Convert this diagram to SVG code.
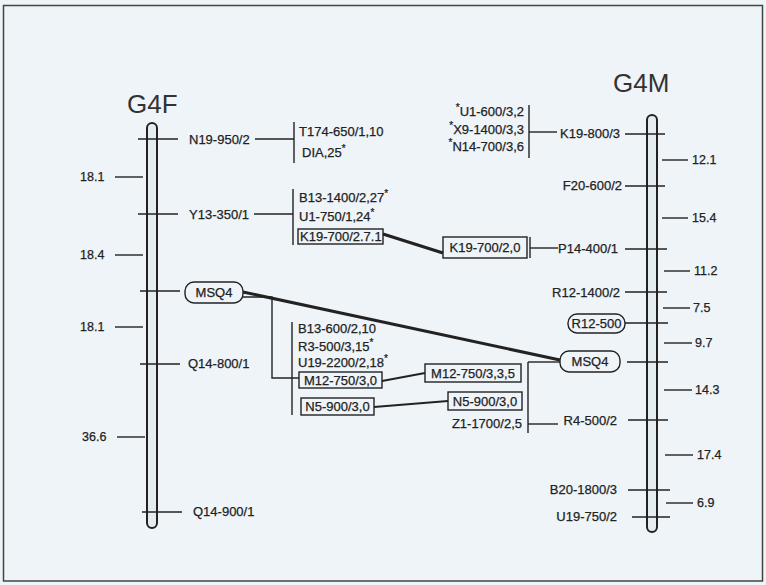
<svg xmlns="http://www.w3.org/2000/svg" width="766" height="585" viewBox="0 0 766 585">
<style>
text{font-family:"Liberation Sans",Arial,sans-serif;font-size:13px;fill:#222;stroke:#222;stroke-width:0.25}
.t{font-size:26px;fill:#333;stroke:none}
.n{font-size:12.5px}
.e{text-anchor:end}
.m{text-anchor:middle}
.s{font-size:10px}
line,path,polyline{stroke:#222;fill:none;stroke-width:1.4}
.rod{fill:#e6edf1;stroke:#222;stroke-width:2}
.box{fill:none;stroke:#222;stroke-width:1.4}
.thick{stroke-width:3}
.med{stroke-width:2}
</style>
<rect x="0" y="0" width="766" height="585" fill="#eef4f8"/>
<rect x="3.5" y="5.5" width="759" height="575.5" fill="none" stroke="#444" stroke-width="1.5"/>

<g id="G4F">
  <text class="t" x="127" y="113">G4F</text>
  <rect class="rod" x="147" y="123" width="10" height="405" rx="5"/>
  <line x1="138" y1="139" x2="178" y2="139"/>
  <line x1="115" y1="177" x2="143" y2="177"/>
  <line x1="138" y1="214" x2="178" y2="214"/>
  <line x1="115" y1="255" x2="143" y2="255"/>
  <line x1="140" y1="291" x2="180" y2="291"/>
  <line x1="115" y1="327" x2="143" y2="327"/>
  <line x1="140" y1="364" x2="180" y2="364"/>
  <line x1="117" y1="437" x2="145" y2="437"/>
  <line x1="142" y1="512" x2="182" y2="512"/>
  <text class="n" x="80" y="181">18.1</text>
  <text class="n" x="80" y="259">18.4</text>
  <text class="n" x="80" y="331">18.1</text>
  <text class="n" x="82" y="441">36.6</text>
  <text x="189" y="144">N19-950/2</text>
  <text x="189" y="219">Y13-350/1</text>
  <text x="188" y="368">Q14-800/1</text>
  <text x="193" y="516">Q14-900/1</text>
</g>
<g id="MSQ4-F">
  <rect class="box" x="185" y="282" width="58" height="21" rx="9"/>
  <text class="m" x="214" y="297">MSQ4</text>
</g>

<g id="G4M">
  <text class="t" x="613" y="92">G4M</text>
  <rect class="rod" x="647" y="115" width="10" height="417" rx="5"/>
  <line x1="625" y1="134" x2="665" y2="134"/>
  <line x1="662" y1="160" x2="688" y2="160"/>
  <line x1="625" y1="186" x2="665" y2="186"/>
  <line x1="662" y1="218" x2="688" y2="218"/>
  <line x1="625" y1="249" x2="667" y2="249"/>
  <line x1="664" y1="271" x2="690" y2="271"/>
  <line x1="625" y1="292" x2="667" y2="292"/>
  <line x1="663" y1="308" x2="690" y2="308"/>
  <line x1="625" y1="323" x2="668" y2="323"/>
  <line x1="664" y1="343" x2="692" y2="343"/>
  <line x1="627" y1="362" x2="668" y2="362"/>
  <line x1="664" y1="390" x2="692" y2="390"/>
  <line x1="628" y1="420" x2="668" y2="420"/>
  <line x1="665" y1="455" x2="693" y2="455"/>
  <line x1="628" y1="490" x2="670" y2="490"/>
  <line x1="666" y1="503" x2="693" y2="503"/>
  <line x1="632" y1="517" x2="670" y2="517"/>
  <text class="n" x="692" y="164">12.1</text>
  <text class="n" x="692" y="222">15.4</text>
  <text class="n" x="694" y="275">11.2</text>
  <text class="n" x="693" y="312">7.5</text>
  <text class="n" x="695" y="347">9.7</text>
  <text class="n" x="695" y="394">14.3</text>
  <text class="n" x="697" y="459">17.4</text>
  <text class="n" x="697" y="507">6.9</text>
  <text class="e" x="620" y="138">K19-800/3</text>
  <text class="e" x="622" y="190">F20-600/2</text>
  <text class="e" x="618" y="253">P14-400/1</text>
  <text class="e" x="620" y="297">R12-1400/2</text>
  <text class="e" x="617" y="425">R4-500/2</text>
  <text class="e" x="617" y="494">B20-1800/3</text>
  <text class="e" x="617" y="521">U19-750/2</text>
</g>
<g id="R12-500">
  <rect class="box" x="568" y="314" width="57" height="19" rx="9"/>
  <text class="m" x="596.5" y="328">R12-500</text>
</g>
<g id="MSQ4-M">
  <rect class="box" x="560" y="351" width="60" height="21" rx="9"/>
  <text class="m" x="590" y="366">MSQ4</text>
</g>

<g id="group-N19">
  <text x="299" y="136">T174-650/1,10</text>
  <text x="302" y="157">DIA,25<tspan class="s" dy="-5">*</tspan></text>
</g>
<g id="group-Y13">
  <text x="299" y="202">B13-1400/2,27<tspan class="s" dy="-5">*</tspan></text>
  <text x="299" y="221">U1-750/1,24<tspan class="s" dy="-5">*</tspan></text>
</g>
<g id="K19-left">
  <rect class="box" x="298" y="229" width="85" height="15"/>
  <text x="300" y="241">K19-700/2.7.1</text>
</g>
<g id="K19-right">
  <rect class="box" x="443" y="237" width="84" height="21"/>
  <text class="m" x="485" y="252">K19-700/2,0</text>
</g>
<g id="group-K19-800">
  <text class="e" x="524" y="116"><tspan class="s" dy="-5">*</tspan><tspan dy="5">U1-600/3,2</tspan></text>
  <text class="e" x="524" y="134"><tspan class="s" dy="-5">*</tspan><tspan dy="5">X9-1400/3,3</tspan></text>
  <text class="e" x="524" y="151"><tspan class="s" dy="-5">*</tspan><tspan dy="5">N14-700/3,6</tspan></text>
</g>
<g id="group-MSQ4">
  <text x="298" y="333">B13-600/2,10</text>
  <text x="298" y="351">R3-500/3,15<tspan class="s" dy="-5">*</tspan></text>
  <text x="298" y="367">U19-2200/2,18<tspan class="s" dy="-5">*</tspan></text>
</g>
<g id="M12-left">
  <rect class="box" x="299" y="372" width="83" height="16"/>
  <text class="m" x="340.5" y="385">M12-750/3,0</text>
</g>
<g id="N5-left">
  <rect class="box" x="301" y="398" width="73" height="17"/>
  <text class="m" x="337.5" y="411">N5-900/3,0</text>
</g>
<g id="M12-right">
  <rect class="box" x="425" y="364" width="96" height="18"/>
  <text class="m" x="473" y="378">M12-750/3,3,5</text>
</g>
<g id="N5-right">
  <rect class="box" x="448" y="392" width="74" height="18"/>
  <text class="m" x="485" y="406">N5-900/3,0</text>
</g>
<g id="Z1">
  <text class="e" x="522" y="428">Z1-1700/2,5</text>
</g>

<g id="connectors">
  <line x1="255" y1="139" x2="294" y2="139"/>
  <line x1="294" y1="122" x2="294" y2="163"/>
  <line x1="254" y1="214" x2="293" y2="214"/>
  <line x1="293" y1="189" x2="293" y2="245"/>
  <line class="thick" x1="383" y1="234" x2="443" y2="253"/>
  <line x1="530" y1="237" x2="530" y2="258"/>
  <line x1="530" y1="248" x2="558" y2="248"/>
  <line x1="529" y1="105" x2="529" y2="158"/>
  <line x1="529" y1="132" x2="557" y2="132"/>
  <line class="thick" x1="243" y1="292" x2="560" y2="360"/>
  <polyline points="243,297 272,297 272,378 299,378"/>
  <line x1="292" y1="322" x2="292" y2="415"/>
  <line class="med" x1="382" y1="381" x2="425" y2="373"/>
  <line class="med" x1="374" y1="407" x2="448" y2="401"/>
  <line x1="528" y1="362" x2="528" y2="433"/>
  <line x1="528" y1="362" x2="560" y2="362"/>
  <line x1="528" y1="424" x2="558" y2="424"/>
</g>
</svg>
